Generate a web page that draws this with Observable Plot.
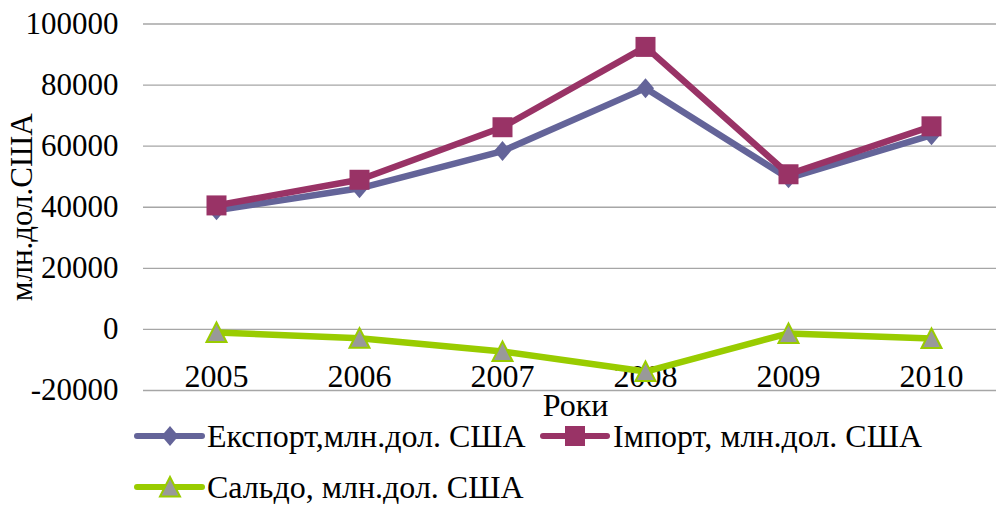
<!DOCTYPE html>
<html>
<head>
<meta charset="utf-8">
<script src="https://cdn.jsdelivr.net/npm/d3@7"></script>
<script src="https://cdn.jsdelivr.net/npm/@observablehq/plot@0.6"></script>
<style>
  html, body { margin: 0; padding: 0; background: #fff; }
  #chart { width: 996px; height: 506px; position: relative; overflow: hidden; }
  #chart svg { display: block; overflow: visible; }
  svg text { font-family: "Liberation Serif", "Times New Roman", serif; }
</style>
</head>
<body>
<div id="chart"></div>
<script>
// ---- data ----
const years = ["2005", "2006", "2007", "2008", "2009", "2010"];
const exportVals = [39000, 46200, 58400, 79000, 49500, 63600];
const importVals = [40600, 49000, 66200, 92500, 50800, 66500];
const saldoVals  = [-1000, -2900, -7200, -13800, -1300, -2950];
const yTicks = [-20000, 0, 20000, 40000, 60000, 80000, 100000];
const seriesNames = ["Експорт,млн.дол. США", "Імпорт, млн.дол. США", "Сальдо, млн.дол. США"];
const yLabel = "млн.дол.США";
const xLabel = "Роки";

const colors = { exp: "#646499", imp: "#993366", sal: "#99cc00", tri: "#999999" };

// custom symbols (size = r^2 * PI)
const rOf = s => Math.sqrt(s / Math.PI);
const diamondSym = { draw(ctx, size) { const r = rOf(size); const w = r * 0.85;
  ctx.moveTo(0, -r); ctx.lineTo(w, 0); ctx.lineTo(0, r); ctx.lineTo(-w, 0); ctx.closePath(); } };
const squareSym = { draw(ctx, size) { const r = rOf(size);
  ctx.moveTo(-r, -r); ctx.lineTo(r, -r); ctx.lineTo(r, r); ctx.lineTo(-r, r); ctx.closePath(); } };
const triSym = { draw(ctx, size) { const r = rOf(size); const w = r * 1.0;
  ctx.moveTo(0, -r); ctx.lineTo(w, r * 0.95); ctx.lineTo(-w, r * 0.95); ctx.closePath(); } };

const exp = years.map((y, i) => ({ year: y, v: exportVals[i] }));
const imp = years.map((y, i) => ({ year: y, v: importVals[i] }));
const sal = years.map((y, i) => ({ year: y, v: saldoVals[i] }));

const font = '"Liberation Serif", "Times New Roman", serif';

const plot = Plot.plot({
  width: 996,
  height: 420,
  marginLeft: 143,
  marginRight: 0,
  marginTop: 23.5,
  marginBottom: 30,
  style: { fontFamily: font, fontSize: "32px", color: "#000", background: "#fff", overflow: "visible" },
  x: { type: "point", domain: years, range: [214.5, 932.5], padding: 0, axis: null },
  y: { domain: [-20000, 100000], axis: null },
  marks: [
    Plot.ruleY(yTicks, { stroke: "#a6a6a6", strokeWidth: 1.3 }),
    Plot.axisY({ ticks: yTicks, tickSize: 0, tickPadding: 25, fontSize: 31, tickFormat: d => String(d), label: null }),
    Plot.text([yLabel], { frameAnchor: "left", textAnchor: "middle", rotate: -90, dx: -121, fontSize: 31, fill: "#000" }),
    Plot.text(years, { x: d => d, y: () => 0, dy: 47, fontSize: 32, fill: "#000" }),
    Plot.text([xLabel], { frameAnchor: "bottom", lineAnchor: "middle", dy: 15, dx: 5.5, fontSize: 32, fill: "#000" }),
    Plot.line(exp, { x: "year", y: "v", stroke: colors.exp, strokeWidth: 6.5 }),
    Plot.dot(exp, { x: "year", y: "v", symbol: diamondSym, r: 10, fill: colors.exp, stroke: "none" }),
    Plot.line(imp, { x: "year", y: "v", stroke: colors.imp, strokeWidth: 6.5 }),
    Plot.dot(imp, { x: "year", y: "v", symbol: squareSym, r: 10, fill: colors.imp, stroke: "none" }),
    Plot.line(sal, { x: "year", y: "v", stroke: colors.sal, strokeWidth: 6.5 }),
    Plot.dot(sal, { x: "year", y: "v", symbol: triSym, r: 10, fill: colors.tri, stroke: colors.sal, strokeWidth: 2 })
  ]
});
document.getElementById("chart").appendChild(plot);

// ---- legend (below the plot) ----
const legend = d3.select("#chart").append("svg")
  .attr("width", 996).attr("height", 86);
const items = [
  { name: seriesNames[0], color: colors.exp, sym: diamondSym, fill: colors.exp, stroke: "none", x0: 137, x1: 202, mx: 170, tx: 207, y: 16 },
  { name: seriesNames[1], color: colors.imp, sym: squareSym, fill: colors.imp, stroke: "none", x0: 543, x1: 607, mx: 575, tx: 613, y: 16 },
  { name: seriesNames[2], color: colors.sal, sym: triSym, fill: colors.tri, stroke: colors.sal, x0: 137, x1: 202, mx: 170, tx: 207, y: 67 }
];
const sym = d3.symbol().size(100 * Math.PI);
for (const it of items) {
  const g = legend.append("g");
  g.append("line").attr("x1", it.x0).attr("x2", it.x1).attr("y1", it.y).attr("y2", it.y)
    .attr("stroke", it.color).attr("stroke-width", 6).attr("stroke-linecap", "round");
  g.append("path").attr("d", sym.type(it.sym)()).attr("transform", `translate(${it.mx},${it.y})`)
    .attr("fill", it.fill).attr("stroke", it.stroke).attr("stroke-width", 2);
  g.append("text").attr("x", it.tx).attr("y", it.y + 11).attr("font-size", 32)
    .attr("font-family", font).attr("fill", "#000").text(it.name);
}
</script>
</body>
</html>
